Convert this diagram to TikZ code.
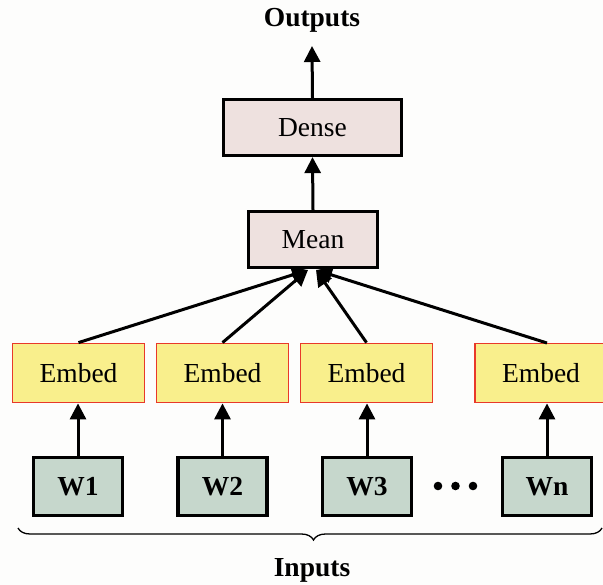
\documentclass[tikz,border=0pt]{standalone}
\usepackage{fontspec}
\setmainfont{Liberation Serif}
\usetikzlibrary{arrows.meta,decorations.pathreplacing}
\definecolor{pinkfill}{HTML}{EEE1DF}
\definecolor{yelfill}{HTML}{F9EF8C}
\definecolor{redline}{HTML}{E8392A}
\definecolor{grnfill}{HTML}{C6D7CC}
\definecolor{bgc}{HTML}{FDFDFC}
\begin{document}
\begin{tikzpicture}[x=1pt,y=-1pt,
  topbox/.style={draw=black,line width=3.2pt,fill=pinkfill,minimum width=178pt,minimum height=56pt,inner sep=0pt,font=\fontsize{27.5}{30}\selectfont},
  embox/.style={draw=redline,line width=1.8pt,fill=yelfill,minimum width=132pt,minimum height=59pt,inner sep=0pt,font=\fontsize{27.5}{30}\selectfont},
  wbox/.style={draw=black,line width=3.2pt,fill=grnfill,minimum width=89pt,minimum height=58pt,inner sep=0pt,font=\fontsize{27.5}{30}\selectfont\bfseries},
  arr/.style={line width=3pt,-{Triangle[length=16pt,width=16pt]}},
  lbl/.style={font=\fontsize{27.5}{30}\selectfont\bfseries,inner sep=0pt}]
\useasboundingbox[fill=bgc] (0,0) rectangle (603,585);
% top
\node[lbl] (out) at (312,20) {Outputs};
\node[topbox] (dense) at (312.5,127.5) {Dense};
\node[topbox,minimum width=129pt] (mean) at (313,239.5) {Mean};
% embeds
\node[embox] (e1) at (78.5,373) {Embed};
\node[embox] (e2) at (222.5,373) {Embed};
\node[embox] (e3) at (366.5,373) {Embed};
\node[embox] (e4) at (541,373) {Embed};
% words
\node[wbox] (w1) at (78,486.5) {W1};
\node[wbox] (w2) at (222.5,486.5) {W2};
\node[wbox] (w3) at (367,486.5) {W3};
\node[wbox] (wn) at (547,486.5) {Wn};
% dots
\foreach \x/\n in {438/d1,455.5/d2,473/d3}
  \fill (\x,486) circle[radius=4.3pt] coordinate (\n);
% arrows
\coordinate (outtip) at (312,46);
\draw[arr] (dense.north) -- (outtip);
\draw[arr] (mean.north) -- (dense.south);
\coordinate (mL) at (308,270);
\coordinate (mR) at (316,270);
\draw[arr] (e1.north) -- (mL);
\draw[arr] (e2.north) -- (mL);
\draw[arr] (e3.north) -- (mR);
\coordinate (e4top) at (547,343);
\draw[arr] (e4top) -- (mR);
\draw[arr] (w1.north) -- (e1.south -| w1.north);
\draw[arr] (w2.north) -- (e2.south -| w2.north);
\draw[arr] (w3.north) -- (e3.south -| w3.north);
\draw[arr] (wn.north) -- (e4.south -| wn.north);
% brace
\coordinate (bl) at (18,528);
\coordinate (br) at (602,528);
\draw[line width=1.3pt,decorate,decoration={brace,mirror,amplitude=12pt,aspect=0.506}] (bl) -- (br);
\node[lbl] (inp) at (312,570) {Inputs};
\end{tikzpicture}
\end{document}
